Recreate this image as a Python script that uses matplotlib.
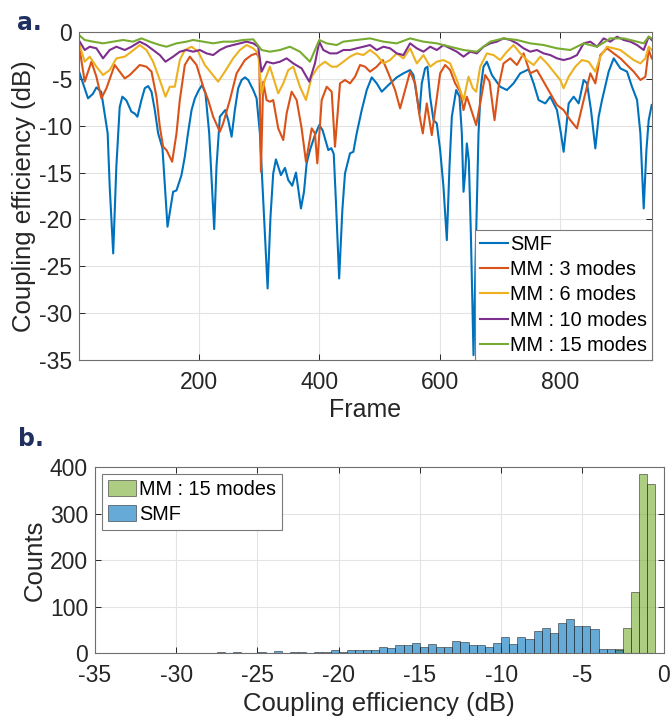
import numpy as np
import matplotlib
matplotlib.use("Agg")
import matplotlib.pyplot as plt

# ---- panel a: coupling efficiency per frame ----
smf_frame = [1, 16, 24, 30, 38, 48.6, 52, 57.8, 63, 68.6, 73, 79.7, 88, 93.5, 98,
             104.7, 110.2, 115.8, 121.4, 126.9, 132.4, 139.6, 148, 157.3, 162.9,
             171.2, 176.7, 182, 187.9, 193.4, 200, 205.5, 211, 217.2, 225.5, 229.3,
             234.9, 243.8, 248.8, 254.4, 259.8, 265.3, 271, 276.5, 282, 290.3, 295.9,
             301.4, 306.9, 314.2, 319, 323.5, 328, 336.3, 343, 348.5, 355.1, 361.3,
             369.6, 374.6, 379, 384.5, 392.8, 400, 405.6, 415, 420, 424, 427.5, 433,
             438.3, 442.7, 451, 456.6, 462.1, 470.5, 478.8, 487.1, 495.4, 503.7,
             514.8, 528.6, 539.7, 550.8, 556.4, 563, 566.3, 570.2, 575.7, 579.6,
             584, 589.6, 595.1, 600.7, 606.2, 611.8, 616.2, 620.1, 627.3, 632.8,
             636.7, 639.5, 642.2, 645, 648.3, 651.7, 656.1, 660.5, 664.4, 668.3,
             672.7, 678.3, 686.6, 700.4, 711.5, 722.6, 733.7, 747.5, 755.9, 764.2,
             775.3, 783.6, 794.7, 801.3, 805.7, 810.2, 814.1, 822.4, 830.7, 839,
             844.5, 851.2, 858.4, 863.9, 869.5, 880.5, 888.9, 900, 911, 919.3,
             927.7, 933.2, 938.7, 943.2, 947, 952]
smf_db = [-4.2, -7.08, -6.6, -5.91, -6.4, -10.8, -16.5, -23.63, -14.4, -8.0, -6.9, -7.3,
          -8.5, -8.7, -9.04, -7.26, -6.0, -5.77, -6.37, -8.33, -10.8, -12.4, -20.78,
          -17.05, -16.9, -15.27, -13.3, -10.8, -8.33, -7.08, -6.19, -5.66, -6.55,
          -10.8, -21.03, -14.38, -9.04, -8.33, -9.4, -11.17, -8.33, -6.01, -5.12,
          -4.84, -5.12, -6.19, -7.08, -10.82, -17.9, -27.37, -19.7, -15.09, -13.59,
          -15.27, -14.5, -15.8, -16.4, -15.0, -18.83, -17.05, -14.02, -12.6, -11.0,
          -9.93, -10.5, -12.6, -12.4, -13.0, -17.9, -26.3, -19.0, -15.09, -12.95,
          -12.78, -10.82, -8.33, -6.19, -4.84, -5.48, -6.37, -5.66, -4.84, -4.41,
          -4.06, -4.59, -7.26, -8.68, -5.48, -3.88, -3.7, -6.9, -9.4, -9.75, -12.6,
          -16.51, -22.21, -14.38, -9.04, -6.19, -6.9, -10.82, -17.05, -15.09, -11.89,
          -13.67, -21.49, -34.48, -21.49, -10.82, -5.84, -3.7, -3.17, -4.59, -5.84,
          -6.19, -5.48, -4.41, -3.99, -5.48, -7.26, -7.62, -6.9, -8.33, -10.82,
          -12.78, -10.11, -7.62, -6.9, -7.62, -5.12, -5.48, -8.33, -12.42, -9.04,
          -7.26, -4.23, -2.81, -3.88, -4.23, -5.84, -7.26, -10.82, -18.83, -12.6,
          -9.4, -7.79]

mm3_frame = [1, 10.5, 21.6, 29.9, 38.2, 46.5, 60.3, 68.6, 77, 85.3, 101.9, 113, 121.4,
             129.7, 135.2, 140.7, 146.3, 155.7, 162.9, 168.4, 176.7, 185, 196.2,
             207.2, 215.5, 223.8, 234.9, 240.4, 251.5, 262.7, 276.5, 287.6, 295.9,
             300.3, 303.1, 306.9, 312.5, 318, 323.5, 331.8, 340.2, 345.8, 354.1,
             362.4, 370.7, 377.9, 387.4, 392.8, 396.7, 404, 412.3, 420.6, 426.1,
             434.4, 442.7, 451, 459.4, 467.7, 476, 484.3, 495.4, 505.4, 514.8, 525.9,
             534.2, 542.5, 550.8, 559.1, 566.3, 571.9, 578.5, 586.8, 592.4, 600.7,
             609, 617.3, 625.6, 633.9, 639.5, 645, 650.6, 660.5, 667.2, 675.5, 682.7,
             691, 697.7, 706, 717.1, 728.2, 739.2, 750.3, 761.4, 772.5, 783.6, 794.7,
             805.7, 816.8, 827.9, 839, 850.1, 858.4, 866.7, 877.8, 888.9, 900, 911,
             922.1, 933.2, 941.5, 947, 952]
mm3_db = [-1.4, -5.3, -3.17, -4.77, -7.08, -6.01, -3.52, -4.23, -4.95, -4.59, -3.52,
          -3.7, -4.23, -6.9, -10.1, -12.24, -12.6, -13.84, -10.82, -7.26, -3.52, -2.63,
          -3.52, -5.84, -7.26, -9.04, -10.64, -9.75, -7.26, -4.41, -2.99, -2.46, -2.28,
          -2.81, -14.91, -5.3, -7.26, -7.44, -7.26, -10.28, -11.53, -8.68, -6.37,
          -7.26, -10.28, -13.84, -10.28, -10.82, -14.02, -7.26, -5.84, -6.37, -12.24,
          -5.48, -5.12, -5.48, -4.77, -3.52, -3.7, -4.23, -3.7, -2.99, -4.41, -6.19,
          -8.15, -6.19, -4.23, -5.48, -8.86, -10.82, -7.62, -11.0, -8.33, -4.41, -3.52,
          -4.06, -5.48, -6.37, -8.33, -6.9, -7.97, -9.93, -7.62, -4.59, -5.3, -9.4,
          -5.84, -3.35, -2.81, -3.52, -2.28, -4.41, -4.06, -5.3, -6.55, -7.79, -8.33,
          -9.4, -10.28, -7.26, -4.41, -5.48, -2.46, -1.74, -2.28, -2.81, -3.52, -4.23,
          -5.12, -4.77, -1.92, -2.81]

mm6_frame = [1, 10.5, 18.8, 29.9, 40.9, 52, 63.2, 77, 88.1, 101.9, 113, 124.1, 135.2,
             144.6, 151.8, 160.1, 168.4, 176.7, 187.9, 198.8, 210, 221.1, 232.1,
             243.2, 257, 268.2, 279.3, 290.3, 298.6, 304.2, 309.7, 318, 331.8, 340.2,
             348.5, 356.8, 367.9, 377.9, 387.4, 398.3, 409.5, 420.6, 429, 440, 451,
             462.1, 473.2, 484.3, 495.4, 506.5, 517.6, 528.6, 539.7, 550.8, 561.9,
             573, 584.1, 595.1, 606.2, 617.3, 628.4, 639.5, 647.8, 655, 660.5, 667.2,
             678.3, 689.4, 700.4, 711.5, 722.6, 733.7, 744.8, 755.9, 767, 778, 789.1,
             800.2, 805.7, 814.1, 825.1, 836.2, 847.3, 858.4, 866.7, 877.8, 888.9,
             900, 911, 922.1, 933.2, 941.5, 947, 952]
mm6_db = [-1.2, -3.17, -2.63, -3.7, -4.59, -4.06, -2.81, -2.63, -2.1, -1.39, -1.92,
          -3.17, -5.12, -6.9, -5.84, -5.84, -2.99, -1.92, -1.57, -2.1, -3.52, -4.41,
          -5.3, -4.23, -2.81, -1.92, -1.39, -1.74, -2.28, -6.55, -5.12, -3.7, -6.55,
          -5.48, -4.06, -3.7, -5.84, -7.26, -4.77, -3.7, -3.17, -3.7, -3.7, -3.17,
          -2.63, -2.28, -2.46, -1.92, -2.46, -3.35, -2.99, -2.28, -2.81, -1.74, -3.35,
          -2.46, -3.7, -3.17, -2.99, -3.35, -5.12, -7.26, -4.77, -6.01, -6.37, -3.7,
          -2.28, -2.46, -2.99, -2.1, -1.39, -2.28, -2.99, -3.52, -2.63, -3.35, -4.23,
          -5.12, -6.01, -4.77, -3.7, -2.99, -3.17, -4.23, -2.63, -1.57, -1.74, -1.92,
          -2.46, -2.99, -3.35, -2.81, -1.57, -1.92]

mm10_frame = [1, 10.5, 18.8, 29.9, 40.9, 52, 63.2, 77, 88.1, 101.9, 113, 124.1, 135.2,
              144.6, 157.3, 168.4, 179.5, 190.5, 201.7, 212.8, 223.8, 234.9, 246,
              257, 268.2, 279.3, 290.3, 298.6, 304.2, 312.5, 323.5, 334.7, 345.8,
              356.8, 370.7, 383.4, 392.8, 400, 406.7, 417.8, 429, 440, 451, 462.1,
              473.2, 484.3, 495.4, 506.5, 517.6, 528.6, 539.7, 550.8, 561.9, 573,
              584.1, 595.1, 606.2, 617.3, 628.4, 639.5, 650.6, 661.6, 672.7, 683.8,
              694.9, 706, 717.1, 728.2, 739.2, 750.3, 761.4, 772.5, 783.6, 794.7,
              805.7, 816.8, 827.9, 839, 850.1, 861.2, 872.2, 883.3, 894.4, 905.5,
              916.6, 927.7, 938.7, 947, 952]
mm10_db = [-0.9, -1.92, -1.57, -1.74, -2.81, -1.92, -1.57, -1.92, -1.57, -1.03, -1.39,
           -1.92, -2.46, -3.17, -2.63, -2.1, -1.92, -2.1, -1.92, -2.28, -2.46, -1.92,
           -1.57, -1.39, -1.21, -1.03, -1.21, -1.57, -4.23, -3.17, -3.35, -3.17, -2.81,
           -3.35, -3.88, -5.3, -3.35, -1.03, -1.92, -2.28, -2.28, -1.92, -1.92, -1.74,
           -1.57, -1.39, -1.92, -1.57, -1.74, -2.28, -2.46, -1.21, -1.74, -2.1, -1.57,
           -1.92, -1.39, -1.74, -2.1, -2.63, -2.1, -2.28, -1.57, -1.21, -1.03, -0.68,
           -0.85, -1.21, -1.74, -2.1, -1.92, -2.28, -2.46, -2.81, -2.99, -2.81, -2.46,
           -1.21, -1.03, -1.57, -0.68, -1.03, -0.5, -0.85, -1.03, -1.39, -1.92, -0.5,
           -0.85]

mm15_frame = [1, 10.5, 24.3, 40.9, 57.5, 74.2, 90.8, 104.7, 118.5, 135.2, 146.3, 162.9,
              179.5, 190.5, 207.2, 223.8, 240.4, 257, 273.6, 290.3, 304.2, 318, 334.7,
              351.3, 367.9, 384.5, 400, 412.3, 428.9, 440, 462.1, 484.3, 506.5, 528.6,
              550.8, 573, 595.1, 617.3, 639.5, 661.6, 683.8, 706, 728.2, 750.3, 772.5,
              794.7, 816.8, 839, 861.2, 883.3, 905.5, 927.7, 938.7, 947, 952]
mm15_db = [-0.32, -0.85, -1.03, -1.21, -1.03, -0.85, -1.03, -0.68, -1.03, -1.39, -1.57,
           -1.21, -1.03, -0.85, -1.03, -1.21, -1.03, -1.03, -0.85, -0.78, -1.92, -2.1,
           -1.92, -1.57, -2.1, -3.17, -0.85, -1.21, -1.39, -1.03, -0.85, -0.68, -1.03,
           -1.21, -0.68, -1.03, -1.21, -1.57, -1.92, -2.1, -1.03, -0.68, -0.85, -1.21,
           -1.39, -1.74, -1.92, -1.21, -1.57, -0.68, -0.68, -1.03, -1.21, -0.5, -0.68]

series_labels = ["SMF", "MM : 3 modes", "MM : 6 modes", "MM : 10 modes", "MM : 15 modes"]
series_colors = ["#0072BD", "#D95319", "#EDB120", "#7E2F8E", "#77AC30"]

# ---- panel b: histogram counts, 0.5 dB bins ----
bin_width = 0.5
smf_first_edge = -35.0
smf_counts = [1, 0, 0, 0, 0, 0, 0, 0, 0, 0,
              1, 0, 0, 0, 0, 2, 0, 3, 0, 1,
              2, 0, 4, 0, 3, 2, 1, 3, 3, 8,
              2, 7, 7, 7, 7, 13, 11, 17, 17, 23,
              14, 19, 13, 14, 27, 24, 17, 17, 13, 22,
              34, 20, 36, 31, 48, 55, 44, 64, 74, 59,
              59, 52, 10, 10, 8]
mm15_first_edge = -3.0
mm15_counts = [10, 55, 132, 384, 363]

text_color = "#262626"
plt.rcParams["font.family"] = ["Liberation Sans", "DejaVu Sans"]
plt.rcParams["axes.unicode_minus"] = False


def style_axes(ax):
    ax.grid(True, color="#e3e3e3", linewidth=0.8)
    ax.set_axisbelow(True)
    ax.tick_params(direction="in", top=True, right=True, length=4, width=0.7,
                   labelsize=16.5, colors=text_color)
    ax.tick_params(axis="x", pad=8)
    ax.tick_params(axis="y", pad=5)
    for s in ax.spines.values():
        s.set_color("#6e6e6e")
        s.set_linewidth(0.8)


fig = plt.figure(figsize=(6.7, 7.21), dpi=100)

# panel a
ax1 = fig.add_axes([0.1179, 0.5007, 0.8548, 0.4549])
lines = [(smf_frame, smf_db), (mm3_frame, mm3_db), (mm6_frame, mm6_db),
         (mm10_frame, mm10_db), (mm15_frame, mm15_db)]
for (fx, fy), lab, col in zip(lines, series_labels, series_colors):
    ax1.plot(fx, fy, color=col, linewidth=1.5, label=lab)
ax1.set_xlim(1, 952)
ax1.set_ylim(-35, 0)
ax1.set_xticks([200, 400, 600, 800])
ax1.set_yticks(np.arange(-35, 1, 5))
ax1.set_xlabel("Frame", fontsize=18, color=text_color, labelpad=3)
ax1.set_ylabel("Coupling efficiency (dB)", fontsize=18.5, color=text_color, labelpad=2)
style_axes(ax1)
leg1 = ax1.legend(loc="lower right", borderaxespad=0, fontsize=14.3, handlelength=1.4,
                  handletextpad=0.1, labelspacing=0.32, borderpad=0.25, fancybox=False,
                  framealpha=1, edgecolor="#7a7a7a")
leg1.get_frame().set_linewidth(0.8)

# panel b
ax2 = fig.add_axes([0.1418, 0.0939, 0.8485, 0.2584])
mm15_left = mm15_first_edge + bin_width * np.arange(len(mm15_counts))
smf_left = smf_first_edge + bin_width * np.arange(len(smf_counts))
ax2.bar(mm15_left, mm15_counts, width=bin_width, align="edge", color="#77AC30",
        alpha=0.6, edgecolor="#1a1a1a", linewidth=0.6, label="MM : 15 modes", zorder=2)
ax2.bar(smf_left, smf_counts, width=bin_width, align="edge", color="#0072BD",
        alpha=0.6, edgecolor="#1a1a1a", linewidth=0.6, label="SMF", zorder=3)
ax2.set_xlim(-35, 0)
ax2.set_ylim(0, 400)
ax2.set_xticks(np.arange(-35, 1, 5))
ax2.set_yticks([0, 100, 200, 300, 400])
ax2.set_xlabel("Coupling efficiency (dB)", fontsize=18.5, color=text_color, labelpad=3)
ax2.set_ylabel("Counts", fontsize=18.5, color=text_color, labelpad=2)
style_axes(ax2)
leg2 = ax2.legend(loc="upper left", borderaxespad=0.35, fontsize=14.3, handlelength=1.4,
                  handleheight=0.85, handletextpad=0.15, labelspacing=0.3, borderpad=0.3,
                  fancybox=False, framealpha=1, edgecolor="#7a7a7a")
leg2.get_frame().set_linewidth(0.8)

# panel letters
fig.text(0.025, 0.985, "a.", fontsize=17, fontweight="bold", color="#1f2f5f",
         family="DejaVu Sans", va="top")
fig.text(0.027, 0.408, "b.", fontsize=17, fontweight="bold", color="#1f2f5f",
         family="DejaVu Sans", va="top")

fig.savefig("out.png", dpi=100)
